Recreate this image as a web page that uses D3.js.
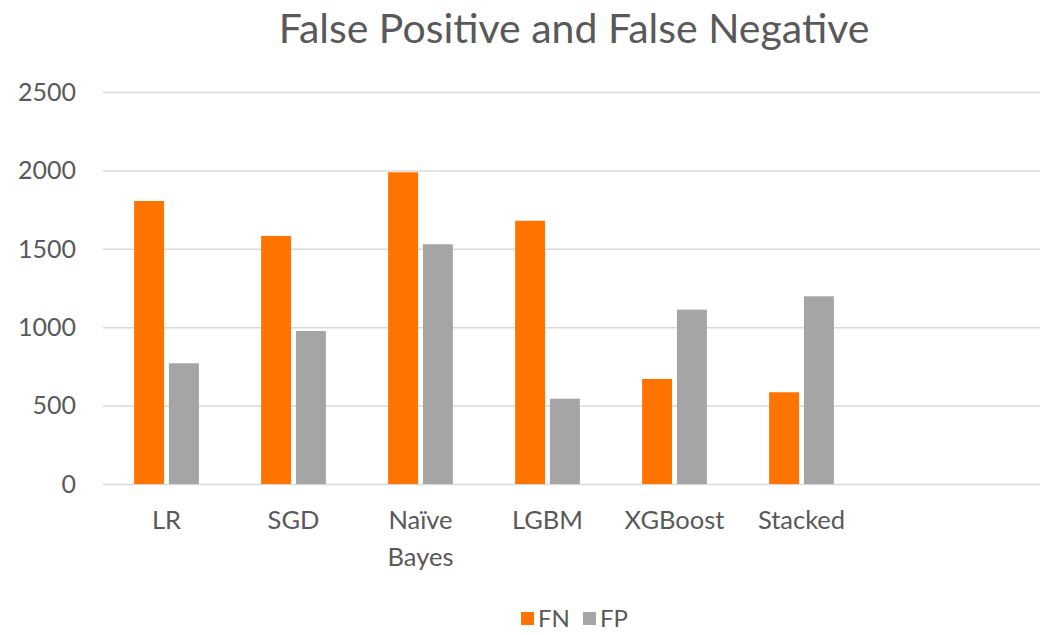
<!DOCTYPE html>
<html>
<head>
<meta charset="utf-8">
<script src="https://cdn.jsdelivr.net/npm/d3@7"></script>
<style>
  body { margin: 0; background: #fff; }
  text { font-family: Lato, "Open Sans", sans-serif; fill: #595959; }
</style>
</head>
<body>
<svg id="chart"></svg>
<script>
const categories = ['LR', 'SGD', 'Naïve Bayes', 'LGBM', 'XGBoost', 'Stacked'];
const seriesNames = ['FN', 'FP'];
const fnValues = [1805, 1582, 1988, 1679, 670, 585];
const fpValues = [770, 976, 1529, 544, 1112, 1197];
const yTicks = [0, 500, 1000, 1500, 2000, 2500];
const colors = ['#ff7400', '#a5a5a5'];

const width = 1046, height = 635;
const svg = d3.select('#chart').attr('width', width).attr('height', height);

// plot area
const plot = {left: 103, right: 1040, top: 92, bottom: 484};
const groupStep = 127;

const yScale = d3.scaleLinear().domain([0, 2500]).range([plot.bottom, plot.top]);

const xScale = d3.scaleBand()
    .domain(categories)
    .range([plot.left, plot.left + groupStep * categories.length])
    .paddingInner(0.49)
    .paddingOuter(0.245);

const xSub = d3.scaleBand()
    .domain(seriesNames)
    .range([0, xScale.bandwidth()])
    .paddingInner(0.14);

svg.append('text')
    .attr('x', 574)
    .attr('y', 43)
    .attr('text-anchor', 'middle')
    .style('font-size', '41px')
    .text('False Positive and False Negative');

// gridlines
svg.append('g')
    .attr('transform', `translate(${plot.left}, 0)`)
    .call(d3.axisLeft(yScale).tickValues(yTicks).tickSize(-(plot.right - plot.left)).tickFormat(''))
    .call(g => g.select('.domain').remove())
    .selectAll('line')
    .attr('stroke', '#d9d9d9')
    .attr('stroke-width', 1.5);

// y labels
svg.append('g')
    .selectAll('text')
    .data(yTicks)
    .enter()
    .append('text')
    .attr('x', 76)
    .attr('y', d => yScale(d))
    .attr('dy', '0.35em')
    .attr('text-anchor', 'end')
    .style('font-size', '25px')
    .text(d => d);

const groups = svg.selectAll('.grp')
    .data(categories)
    .enter()
    .append('g')
    .attr('transform', c => `translate(${xScale(c)}, 0)`);

groups.selectAll('rect')
    .data((c, i) => [fnValues[i], fpValues[i]].map((v, j) => ({key: seriesNames[j], v: v})))
    .enter()
    .append('rect')
    .attr('x', d => xSub(d.key))
    .attr('y', d => yScale(d.v))
    .attr('width', xSub.bandwidth())
    .attr('height', d => plot.bottom - yScale(d.v))
    .attr('fill', (d, j) => colors[j]);

// x labels (wrap on space for long ones)
groups.append('text')
    .attr('x', xScale.bandwidth() / 2)
    .attr('y', 529)
    .attr('text-anchor', 'middle')
    .style('font-size', '25.5px')
    .each(function (c) {
        const words = c.length > 8 ? c.split(' ') : [c];
        const t = d3.select(this);
        words.forEach((w, k) => {
            t.append('tspan')
                .attr('x', xScale.bandwidth() / 2)
                .attr('dy', k === 0 ? 0 : 37)
                .text(w);
        });
    });

// legend
const legend = svg.append('g').attr('transform', 'translate(521, 627)');
const legendX = [0, 62];
seriesNames.forEach((s, i) => {
    const g = legend.append('g').attr('transform', `translate(${legendX[i]}, 0)`);
    g.append('rect').attr('x', 0).attr('y', -15).attr('width', 13).attr('height', 13).attr('fill', colors[i]);
    g.append('text').attr('x', 17).attr('y', 0).style('font-size', '24px').text(s);
});
</script>
</body>
</html>
